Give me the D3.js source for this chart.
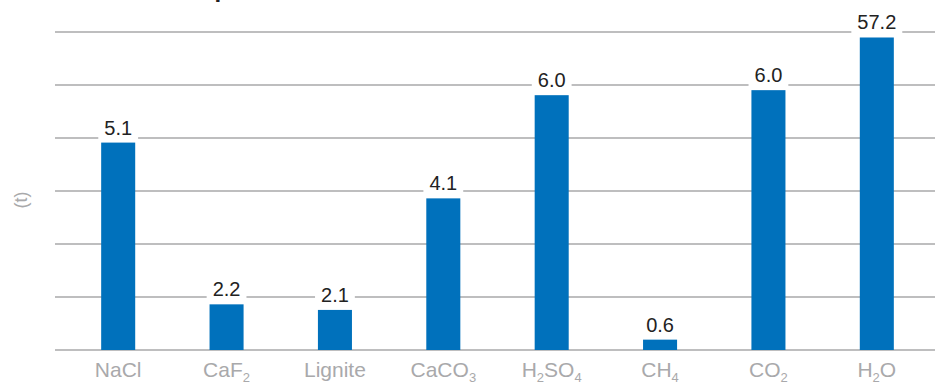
<!DOCTYPE html>
<html>
<head>
<meta charset="utf-8">
<script src="https://cdn.jsdelivr.net/npm/d3@7"></script>
<style>
  html, body { margin: 0; padding: 0; background: #fff; }
  svg { display: block; font-family: "Liberation Sans", Arial, Helvetica, sans-serif; }
</style>
</head>
<body>
<svg id="chart" width="935" height="385"></svg>
<script>
// ---- data ----
const categories = ["NaCl", "CaF2", "Lignite", "CaCO3", "H2SO4", "CH4", "CO2", "H2O"];
const labelParts = [
  [["NaCl", false]],
  [["CaF", false], ["2", true]],
  [["Lignite", false]],
  [["CaCO", false], ["3", true]],
  [["H", false], ["2", true], ["SO", false], ["4", true]],
  [["CH", false], ["4", true]],
  [["CO", false], ["2", true]],
  [["H", false], ["2", true], ["O", false]]
];
const values = [5.1, 2.2, 2.1, 4.1, 5.95, 0.6, 6.04, 57.2];
const titleText = "Resource consumption";
const yAxisLabel = "(t)";
const gridCount = 6;

// ---- layout ----
const W = 935, H = 385;
const baseY = 350, topY = 32;
const svg = d3.select("#chart");

// title (mostly cut off above the frame, as in the original)
const title = svg.append("text")
  .attr("y", -3)
  .attr("font-size", 24)
  .attr("font-weight", "bold")
  .attr("fill", "#222")
  .text(titleText);
const pIdx = titleText.indexOf("p");
const pre = title.node().getSubStringLength(0, pIdx);
title.attr("x", 214.5 - pre);

// scales
const x = d3.scaleBand()
  .domain(categories)
  .range([64, 931])
  .paddingInner(0.686)
  .paddingOuter(0.343);

// broken (piecewise) value axis, as in the original
const y = d3.scaleLinear()
  .domain([0, 2, 6.5, 60])
  .range([baseY, 315.5, 64.5, 36]);

const gridScale = d3.scaleLinear().domain([0, gridCount]).range([baseY, topY]);

// gridlines
svg.append("g")
  .selectAll("line")
  .data(d3.range(gridCount + 1))
  .join("line")
  .attr("x1", 55).attr("x2", W)
  .attr("y1", d => gridScale(d)).attr("y2", d => gridScale(d))
  .attr("stroke", "#a8a8aa")
  .attr("stroke-width", 1.5);

// bars
svg.append("g")
  .selectAll("rect")
  .data(values)
  .join("rect")
  .attr("x", (d, i) => x(categories[i]))
  .attr("width", x.bandwidth())
  .attr("y", d => y(d))
  .attr("height", d => baseY - y(d))
  .attr("fill", "#0071bc");

// value labels with white background
const fmt = d3.format(".1f");
const lab = svg.append("g");
values.forEach((v, i) => {
  const cx = x(categories[i]) + x.bandwidth() / 2;
  const g = lab.append("g");
  const t = g.append("text")
    .attr("x", cx)
    .attr("y", y(v) - 8)
    .attr("text-anchor", "middle")
    .attr("font-size", 20)
    .attr("fill", "#222")
    .text(fmt(v));
  const bb = t.node().getBBox();
  g.insert("rect", "text")
    .attr("x", bb.x - 6)
    .attr("y", bb.y)
    .attr("width", bb.width + 12)
    .attr("height", (y(v) - 2) - bb.y)
    .attr("fill", "#fff");
});

// category labels
const cat = svg.append("g");
labelParts.forEach((parts, i) => {
  const cx = x(categories[i]) + x.bandwidth() / 2;
  const t = cat.append("text")
    .attr("x", cx)
    .attr("y", 377)
    .attr("text-anchor", "middle")
    .attr("fill", "#a9a9ab")
    .attr("font-size", 21);
  let sub = false;
  parts.forEach(([s, isSub]) => {
    const ts = t.append("tspan").text(s);
    if (isSub && !sub) { ts.attr("dy", 5).attr("font-size", 13); sub = true; }
    else if (isSub) { ts.attr("font-size", 13); }
    else if (!isSub && sub) { ts.attr("dy", -5); sub = false; }
  });
});

// y-axis label
svg.append("text")
  .attr("transform", "translate(27,200) rotate(-90)")
  .attr("text-anchor", "middle")
  .attr("font-size", 18)
  .attr("fill", "#a9a9ab")
  .text(yAxisLabel);
</script>
</body>
</html>
